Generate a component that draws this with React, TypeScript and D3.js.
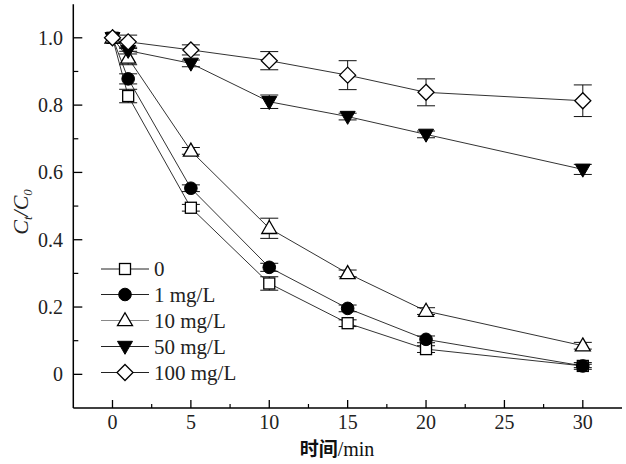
import React from "react";
import * as d3 from "d3";

const times = [0, 1, 5, 10, 15, 20, 30];
const seriesNames = ["0", "1 mg/L", "10 mg/L", "50 mg/L", "100 mg/L"];
const vals0 = [1.0, 0.827, 0.495, 0.27, 0.152, 0.075, 0.025];
const vals1 = [1.0, 0.878, 0.553, 0.318, 0.196, 0.104, 0.025];
const vals10 = [1.0, 0.94, 0.664, 0.434, 0.3, 0.188, 0.085];
const vals50 = [1.0, 0.962, 0.924, 0.81, 0.766, 0.713, 0.609];
const vals100 = [1.0, 0.988, 0.964, 0.932, 0.889, 0.838, 0.813];
const err0 = [0, 0.02, 0.01, 0.02, 0.01, 0.01, 0.01];
const err1 = [0, 0.015, 0.01, 0.012, 0.01, 0.01, 0.005];
const err10 = [0, 0.02, 0.01, 0.03, 0.01, 0.01, 0.01];
const err50 = [0, 0.01, 0.01, 0.02, 0.01, 0.01, 0.015];
const err100 = [0, 0.02, 0.015, 0.027, 0.043, 0.04, 0.047];
const xTicks = [0, 5, 10, 15, 20, 25, 30];
const xMinor = [2.5, 7.5, 12.5, 17.5, 22.5, 27.5];
const yTicks = [0, 0.2, 0.4, 0.6, 0.8, 1.0];
const yTickLabels = ["0", "0.2", "0.4", "0.6", "0.8", "1.0"];
const yMinor = [0.1, 0.3, 0.5, 0.7, 0.9];

const allVals = [vals0, vals1, vals10, vals50, vals100];
const allErr = [err0, err1, err10, err50, err100];
const markerKinds = ["square", "circle", "triangle", "invtriangle", "diamond"];

const W = 626;
const H = 464;
const x = d3.scaleLinear().domain([-2.5, 32.5]).range([73.3, 622]);
const y = d3.scaleLinear().domain([-0.1, 1.1]).range([408, 4.15]);

const ts = { fontFamily: "Liberation Serif" };

function Marker({ kind, cx, cy }: { kind: string; cx: number; cy: number }) {
  const sw = 1.3;
  if (kind === "square") {
    const s = 11;
    return <rect x={cx - s / 2} y={cy - s / 2} width={s} height={s} fill="#fff" stroke="#000" strokeWidth={sw} />;
  }
  if (kind === "circle") {
    return <circle cx={cx} cy={cy} r={6.3} fill="#000" stroke="#000" strokeWidth={1} />;
  }
  if (kind === "triangle") {
    const h = 13, w = 15;
    const pts = `${cx},${cy - h * 0.6} ${cx + w / 2},${cy + h * 0.4} ${cx - w / 2},${cy + h * 0.4}`;
    return <polygon points={pts} fill="#fff" stroke="#000" strokeWidth={sw} />;
  }
  if (kind === "invtriangle") {
    const h = 13, w = 15;
    const pts = `${cx},${cy + h * 0.6} ${cx + w / 2},${cy - h * 0.4} ${cx - w / 2},${cy - h * 0.4}`;
    return <polygon points={pts} fill="#000" stroke="#000" strokeWidth={1} />;
  }
  const r = 8;
  const pts = `${cx},${cy - r} ${cx + r},${cy} ${cx},${cy + r} ${cx - r},${cy}`;
  return <polygon points={pts} fill="#fff" stroke="#000" strokeWidth={sw} />;
}

export default function App() {
  const line = d3
    .line<number>()
    .x((_, i) => x(times[i]))
    .y((d) => y(d));
  const legendY = [269, 294.5, 320.5, 346.5, 372.5];
  return (
    <svg width={W} height={H} style={{ position: "absolute", left: 0, top: 0, background: "#fff" }}>
      <rect width={W} height={H} fill="#fff" />
      {/* axes */}
      <line x1={x(-2.5)} x2={x(32.5)} y1={y(-0.1)} y2={y(-0.1)} stroke="#000" strokeWidth={1.5} />
      <line x1={x(-2.5)} x2={x(-2.5)} y1={y(-0.1)} y2={y(1.1)} stroke="#000" strokeWidth={1.5} />
      {xTicks.map((t) => (
        <g key={"xt" + t}>
          <line x1={x(t)} x2={x(t)} y1={y(-0.1)} y2={y(-0.1) - 8} stroke="#000" strokeWidth={1.3} />
          <text x={x(t)} y={429} textAnchor="middle" style={ts} fontSize={20} fill="#222">
            {t}
          </text>
        </g>
      ))}
      {xMinor.map((t) => (
        <line key={"xm" + t} x1={x(t)} x2={x(t)} y1={y(-0.1)} y2={y(-0.1) - 4} stroke="#000" strokeWidth={1.2} />
      ))}
      {yTicks.map((t, i) => (
        <g key={"yt" + t}>
          <line x1={x(-2.5)} x2={x(-2.5) + 9} y1={y(t)} y2={y(t)} stroke="#000" strokeWidth={1.3} />
          <text x={63} y={y(t) + 7} textAnchor="end" style={ts} fontSize={20} fill="#222">
            {yTickLabels[i]}
          </text>
        </g>
      ))}
      {yMinor.map((t) => (
        <line key={"ym" + t} x1={x(-2.5)} x2={x(-2.5) + 5} y1={y(t)} y2={y(t)} stroke="#000" strokeWidth={1.2} />
      ))}
      {/* axis titles */}
      <text x={337} y={456} textAnchor="middle" fontSize={20} fill="#111" style={ts}>
        <tspan style={{ fontFamily: "Noto Sans CJK SC" }} fontWeight="bold" fontSize={19}>时间</tspan>
        <tspan style={ts}>/min</tspan>
      </text>
      <g transform="translate(28, 212) rotate(-90)">
        <text textAnchor="middle" style={ts} fontSize={22} fontStyle="italic" fill="#222">
          <tspan>C</tspan>
          <tspan fontSize={13} dy={4}>t</tspan>
          <tspan dy={-4}>/C</tspan>
          <tspan fontSize={13} dy={4}>0</tspan>
        </text>
      </g>
      {/* lines */}
      {allVals.map((v, si) => (
        <path key={"l" + si} d={line(v) || ""} fill="none" stroke="#333" strokeWidth={1} />
      ))}
      {/* error bars */}
      {allVals.map((v, si) =>
        v.map((d, i) => {
          const e = allErr[si][i];
          if (e <= 0) return null;
          const cx = x(times[i]);
          const y1 = y(d + e);
          const y2 = y(d - e);
          return (
            <g key={`e${si}-${i}`} stroke="#111" strokeWidth={1}>
              <line x1={cx} x2={cx} y1={y1} y2={y2} />
              <line x1={cx - 9} x2={cx + 9} y1={y1} y2={y1} />
              <line x1={cx - 9} x2={cx + 9} y1={y2} y2={y2} />
            </g>
          );
        })
      )}
      {/* markers */}
      {allVals.map((v, si) =>
        v.map((d, i) => <Marker key={`m${si}-${i}`} kind={markerKinds[si]} cx={x(times[i])} cy={y(d)} />)
      )}
      {/* legend */}
      {seriesNames.map((name, i) => (
        <g key={"lg" + i}>
          <line x1={101} x2={149} y1={legendY[i]} y2={legendY[i]} stroke={i === 2 ? "#888" : "#222"} strokeWidth={1} />
          <Marker kind={markerKinds[i]} cx={125} cy={legendY[i]} />
          <text x={154} y={legendY[i] + 7} style={ts} fontSize={21} fill="#222">
            {name}
          </text>
        </g>
      ))}
    </svg>
  );
}
